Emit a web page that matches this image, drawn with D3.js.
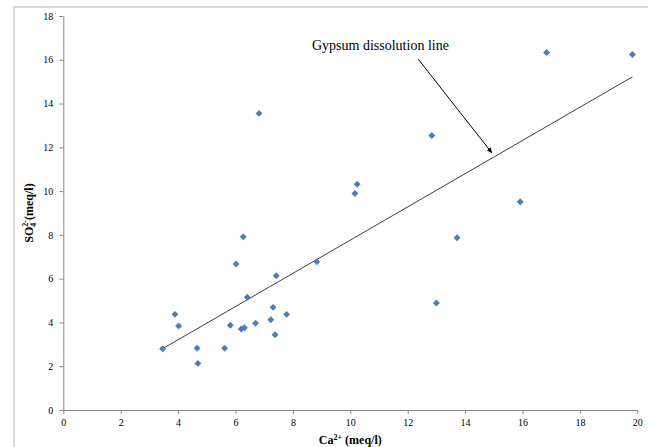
<!DOCTYPE html>
<html>
<head>
<meta charset="utf-8">
<script src="https://cdn.jsdelivr.net/npm/d3@7"></script>
<style>
  body { margin: 0; background: #fff; }
  svg { display: block; font-family: "Liberation Serif", "Times New Roman", serif; }
  .axis path, .axis line { stroke: #868686; }
  .axis text { fill: #000; }
</style>
</head>
<body>
<svg id="chart" width="648" height="447"></svg>
<script>
// Ca2+ (x) and SO4 2- (y), meq/l
var ca  = [3.46, 3.89, 4.02, 4.66, 4.69, 5.62, 5.82, 6.02, 6.27, 6.20, 6.31, 6.41, 6.70, 6.82,
           7.23, 7.31, 7.42, 7.38, 7.78, 8.83, 10.16, 10.24, 12.84, 13.00, 13.72, 15.92, 16.84, 19.83];
var so4 = [2.80, 4.37, 3.84, 2.82, 2.13, 2.82, 3.87, 6.67, 7.91, 3.70, 3.76, 5.15, 3.96, 13.55,
           4.12, 4.69, 6.13, 3.44, 4.37, 6.77, 9.89, 10.31, 12.54, 4.89, 7.87, 9.51, 16.33, 16.24];

// fitted line end points
var lineX = [3.46, 19.83];
var lineY = [2.80, 15.22];

var xTicks = [0, 2, 4, 6, 8, 10, 12, 14, 16, 18, 20];
var yTicks = [0, 2, 4, 6, 8, 10, 12, 14, 16, 18];

var svg = d3.select("#chart"),
    margin = {top: 16, left: 63.3},
    width = 574,
    height = 394;

var serif = "Liberation Serif, Times New Roman, serif";

// outer frame
svg.append("rect")
  .attr("x", 14).attr("y", 7)
  .attr("width", 700).attr("height", 500)
  .attr("fill", "none")
  .attr("stroke", "#d9d9d9")
  .attr("stroke-width", 2);

var x = d3.scaleLinear().domain([0, 20]).range([0, width]);
var y = d3.scaleLinear().domain([0, 18]).range([height, 0]);

var g = svg.append("g")
  .attr("transform", "translate(" + margin.left + "," + margin.top + ")");

g.append("g")
  .attr("class", "axis")
  .attr("transform", "translate(0," + height + ")")
  .call(d3.axisBottom(x).tickValues(xTicks).tickSize(4).tickSizeOuter(0).tickPadding(5))
  .attr("font-family", serif);

g.append("g")
  .attr("class", "axis")
  .call(d3.axisLeft(y).tickValues(yTicks).tickSize(4).tickSizeOuter(0).tickPadding(6))
  .attr("font-family", serif);

// line
g.append("line")
  .attr("x1", x(lineX[0])).attr("y1", y(lineY[0]))
  .attr("x2", x(lineX[1])).attr("y2", y(lineY[1]))
  .attr("stroke", "#404040")
  .attr("stroke-width", 1);

// points
var diamond = d3.symbol().type(d3.symbolSquare).size(24);
g.selectAll(".pt")
  .data(ca.map(function(d, i) { return [d, so4[i]]; }))
  .enter().append("path")
  .attr("class", "pt")
  .attr("d", diamond)
  .attr("fill", "#4a7ebb")
  .attr("transform", function(d) {
    return "translate(" + x(d[0]) + "," + y(d[1]) + ") rotate(45)";
  });

// annotation
svg.append("defs").append("marker")
  .attr("id", "arrow")
  .attr("viewBox", "0 0 10 10")
  .attr("refX", 9).attr("refY", 5)
  .attr("markerWidth", 6).attr("markerHeight", 6)
  .attr("orient", "auto")
  .append("path")
  .attr("d", "M0,1L10,5L0,9Z")
  .attr("fill", "#000");

svg.append("line")
  .attr("x1", 418.3).attr("y1", 59.3)
  .attr("x2", 492).attr("y2", 153)
  .attr("stroke", "#000")
  .attr("stroke-width", 1)
  .attr("marker-end", "url(#arrow)");

svg.append("text")
  .attr("x", 312).attr("y", 50)
  .attr("font-size", "14px")
  .text("Gypsum dissolution line");

// axis titles
var xt = svg.append("text")
  .attr("x", margin.left + width / 2).attr("y", 444)
  .attr("text-anchor", "middle")
  .attr("font-size", "12px")
  .attr("font-weight", "bold");
xt.append("tspan").text("Ca");
xt.append("tspan").attr("font-size", "8px").attr("dy", -4).text("2+");
xt.append("tspan").attr("dy", 4).text(" (meq/l)");

var yt = svg.append("text")
  .attr("transform", "translate(33," + (margin.top + height / 2) + ") rotate(-90)")
  .attr("text-anchor", "middle")
  .attr("font-size", "12px")
  .attr("font-weight", "bold");
yt.append("tspan").text("SO");
yt.append("tspan").attr("font-size", "8px").attr("dy", 3).text("4");
yt.append("tspan").attr("font-size", "8px").attr("dx", -4).attr("dy", -8).text("2-");
yt.append("tspan").attr("dy", 5).text("(meq/l)");
</script>
</body>
</html>
